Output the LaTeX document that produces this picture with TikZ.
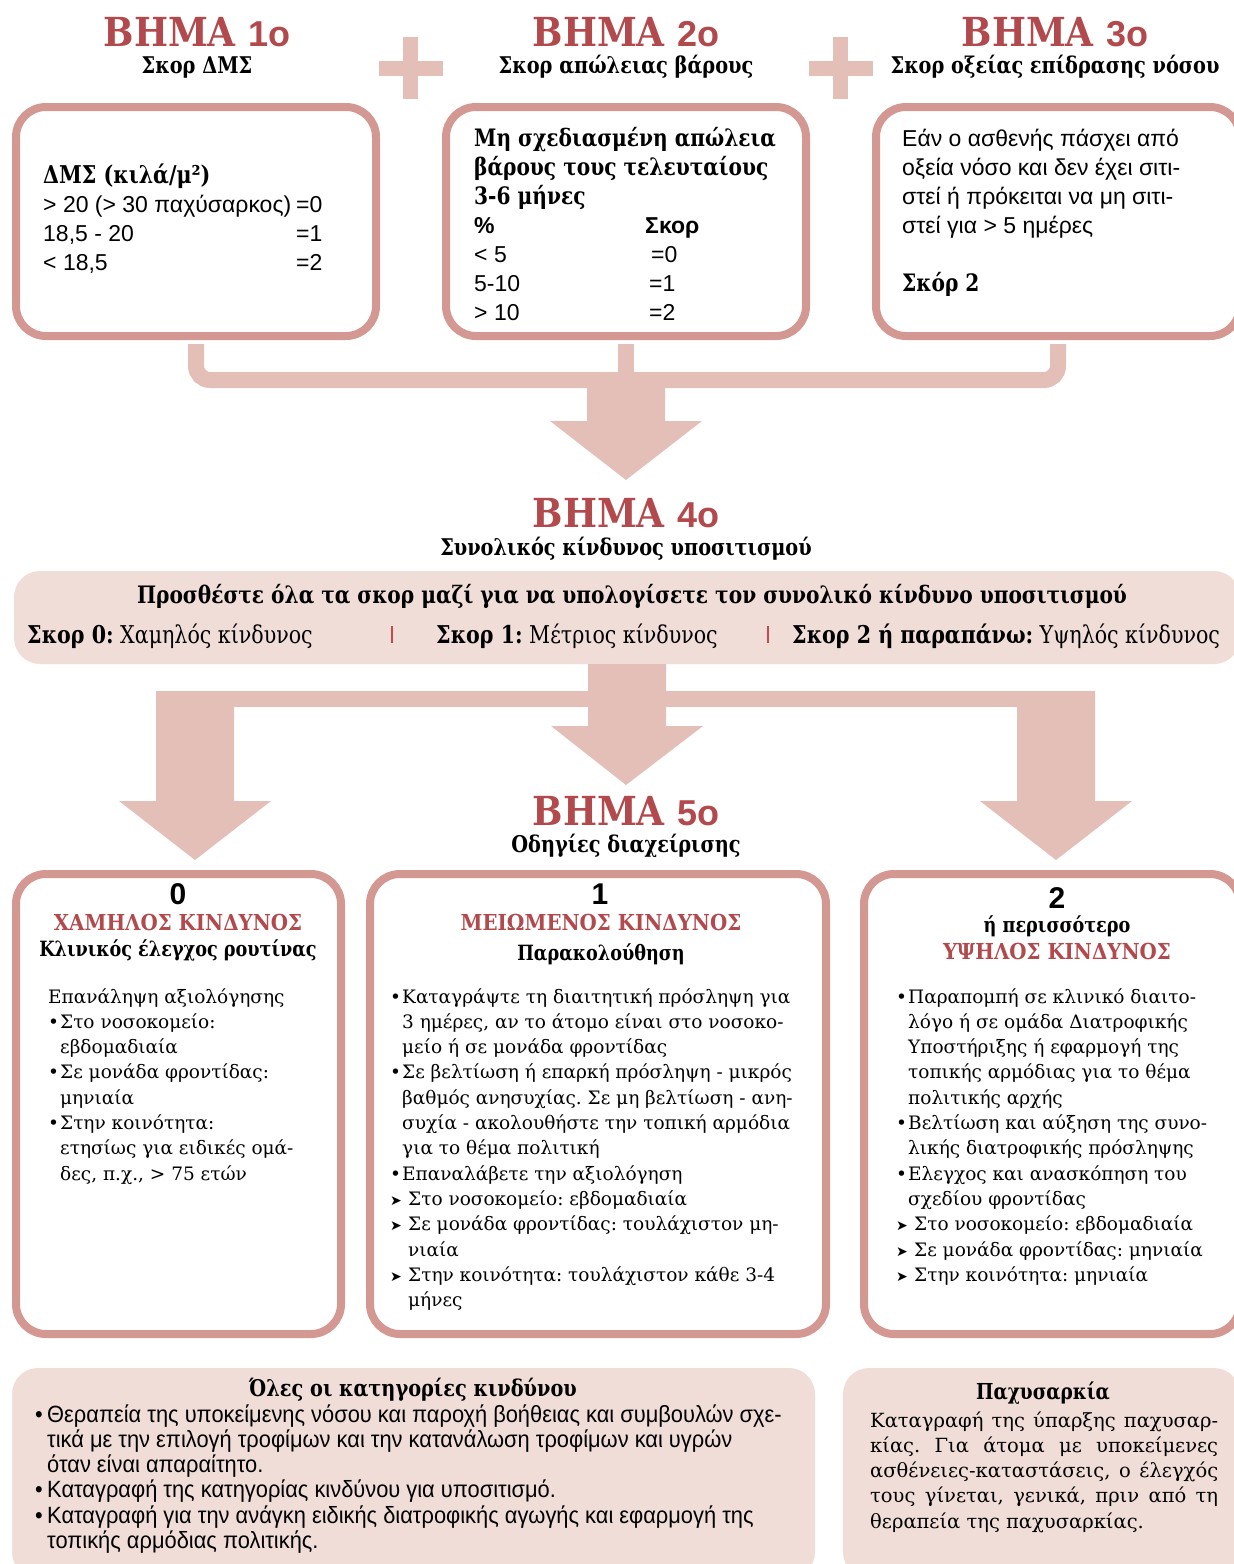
\documentclass[tikz,border=0pt]{standalone}
\usepackage{fontspec}
\setmainfont{DejaVu Serif}
\newfontfamily\narrowserif[FakeStretch=0.84]{DejaVu Serif}
\newfontfamily\titleserif[FakeStretch=0.9]{DejaVu Serif}
\newfontfamily\plainsans{Liberation Sans}
\newfontfamily\narrowsans[FakeStretch=0.93]{Liberation Sans}
\newfontfamily\dingfont{DejaVu Sans}
\usetikzlibrary{positioning,calc}
\frenchspacing

\definecolor{stepred}{RGB}{178,73,77}
\definecolor{boxframe}{RGB}{212,152,147}
\definecolor{flowpink}{RGB}{227,191,183}
\definecolor{panelpink}{RGB}{240,221,215}
\definecolor{barred}{RGB}{204,72,72}

\newcommand{\fsz}[2]{\fontsize{#1}{#2}\selectfont}
\newcommand{\bulletitem}{\makebox[12pt][l]{•}}
\newcommand{\indline}{\hspace*{12pt}}
\newcommand{\arrowitem}{\makebox[18pt][l]{\dingfont\fsz{14}{14}➤}}
\newcommand{\arrowline}{\hspace*{18pt}}
\newcommand{\textlines}[1]{\begin{tabular}[t]{@{}l@{}}#1\end{tabular}}
\newcommand{\stepnum}[1]{{\plainsans\fsz{36}{36}#1}}
\newcommand{\jline}[1]{\makebox[348pt][s]{#1}}

% block arrow: stem from #1, tip at #2
\newcommand{\fatarrow}[2]{%
  \fill[flowpink] let \p1=(#1), \p2=(#2) in
    (\x1-39pt,\y1) -- (\x1+39pt,\y1) -- (\x1+39pt,\y2+59pt)
    -- (\x1+76pt,\y2+59pt) -- (\x2,\y2) -- (\x1-76pt,\y2+59pt)
    -- (\x1-39pt,\y2+59pt) -- cycle;}
\newcommand{\plussign}[1]{%
  \fill[flowpink] ([xshift=-32pt,yshift=-7.5pt]#1) rectangle ([xshift=32pt,yshift=7.5pt]#1);
  \fill[flowpink] ([xshift=-7.5pt,yshift=-31pt]#1) rectangle ([xshift=7.5pt,yshift=31pt]#1);}

\begin{document}
\begin{tikzpicture}[x=1pt,y=-1pt,
    scorebox/.style={draw=boxframe,line width=8pt,fill=white,rounded corners=30pt,inner sep=0pt},
    panel/.style={fill=panelpink,rounded corners=26pt,inner sep=0pt},
    flowline/.style={draw=flowpink,line width=16pt,rounded corners=14pt},
    steptitle/.style={anchor=base,inner sep=0pt,text=stepred,font=\titleserif\bfseries\fsz{40}{40}},
    stepsub/.style={anchor=base,inner sep=0pt,font=\narrowserif\bfseries\fsz{23}{26}},
    riskno/.style={anchor=base,inner sep=0pt,font=\plainsans\bfseries\fsz{30}{30}},
    riskname/.style={anchor=base,inner sep=0pt,text=stepred,font=\titleserif\bfseries\fsz{22}{22}},
    riskhead/.style={anchor=base,inner sep=0pt,font=\narrowserif\bfseries\fsz{21}{21}},
    body/.style={anchor=base west,inner sep=0pt}]

\useasboundingbox (0,0) rectangle (1234,1564);

% Steps 1-3
\node[steptitle] (t1) at (197,46) {ΒΗΜΑ \stepnum{1ο}};
\node[steptitle] (t2) at (626,46) {ΒΗΜΑ \stepnum{2ο}};
\node[steptitle] (t3) at (1055,46) {ΒΗΜΑ \stepnum{3ο}};
\node[stepsub] (s1) at ([yshift=-27pt]t1.base) {Σκορ ΔΜΣ};
\node[stepsub] (s2) at ([yshift=-27pt]t2.base) {Σκορ απώλειας βάρους};
\node[stepsub] (s3) at ([yshift=-27pt]t3.base) {Σκορ οξείας επίδρασης νόσου};
\coordinate (plus1) at (410.5,68);
\coordinate (plus2) at (840.5,68);
\plussign{plus1}
\plussign{plus2}

% Merge to step 4
\node[scorebox,minimum width=360pt,minimum height=229pt] (bmi) at (196,221.5) {};
\node[scorebox,minimum width=360pt,minimum height=229pt] (loss) at (626,221.5) {};
\node[scorebox,minimum width=364pt,minimum height=229pt] (acute) at (1058,221.5) {};
\coordinate (merge) at (626,380);
\coordinate (tip4) at (626,480);
\draw[flowline] ([yshift=-4pt]bmi.south) |- (merge) -| ([yshift=-4pt]acute.south);
\draw[flowline] ([yshift=-4pt]loss.south) -- (merge);
\fatarrow{merge}{tip4}

% Score box texts
\node[body,font=\plainsans\fsz{23}{29}] (bmitext) at (43,183) {\textlines{%
  {\narrowserif\bfseries\fsz{24.5}{29}ΔΜΣ (κιλά/μ²)}\\
  \makebox[253pt][l]{> 20 (> 30 παχύσαρκος)}=0\\
  \makebox[253pt][l]{18,5 - 20}=1\\
  \makebox[253pt][l]{< 18,5}=2}};
\node[body,font=\plainsans\fsz{23}{29}] (losstext) at (474,146) {\textlines{%
  {\narrowserif\bfseries\fsz{24}{29}Μη σχεδιασμένη απώλεια}\\
  {\narrowserif\bfseries\fsz{24}{29}βάρους τους τελευταίους}\\
  {\narrowserif\bfseries\fsz{24}{29}3-6 μήνες}\\
  \makebox[171pt][l]{\bfseries\%}{\bfseries Σκορ}\\
  \makebox[177pt][l]{< 5}=0\\
  \makebox[175pt][l]{5-10}=1\\
  \makebox[175pt][l]{> 10}=2}};
\node[body,font=\plainsans\fsz{23}{29}] (acutetext) at (902,146) {\textlines{%
  Εάν ο ασθενής πάσχει από\\
  οξεία νόσο και δεν έχει σιτι-\\
  στεί ή πρόκειται να μη σιτι-\\
  στεί για > 5 ημέρες\\
  \\
  {\narrowserif\bfseries\fsz{24}{29}Σκόρ 2}}};

% Step 4
\node[steptitle] (t4) at (626,527) {ΒΗΜΑ \stepnum{4ο}};
\node[stepsub] (s4) at ([yshift=-28pt]t4.base) {Συνολικός κίνδυνος υποσιτισμού};
\node[panel,minimum width=1226pt,minimum height=93pt] (total) at (627,617.5) {};
\node[anchor=base,inner sep=0pt,font=\narrowserif\bfseries\fsz{24}{24}] (addall) at (632,603)
  {Προσθέστε όλα τα σκορ μαζί για να υπολογίσετε τον συνολικό κίνδυνο υποσιτισμού};
\node[body,font=\narrowserif\fsz{24.5}{24}] (r0) at (27,643) {{\bfseries Σκορ 0:} Χαμηλός κίνδυνος};
\node[body,font=\narrowserif\fsz{24.5}{24}] (r1) at (436,643) {{\bfseries Σκορ 1:} Μέτριος κίνδυνος};
\node[body,font=\narrowserif\fsz{24.5}{24}] (r2) at (792,643) {{\bfseries Σκορ 2 ή παραπάνω:} Υψηλός κίνδυνος};
\draw[barred,line width=2pt] (392,626) -- (392,643);
\draw[barred,line width=2pt] (768,626) -- (768,643);

% Split to step 5
\coordinate (split) at (626,699);
\coordinate (dropL) at (195,691);
\coordinate (dropR) at (1056,691);
\draw[flowpink,line width=16pt] (dropL |- split) -- (dropR |- split);
\fatarrow{dropL}{195,860}
\fatarrow{dropR}{1056,860}
\fatarrow{total.south}{626,785}

% Step 5
\node[steptitle] (t5) at (626,825) {ΒΗΜΑ \stepnum{5ο}};
\node[stepsub] (s5) at ([yshift=-27pt]t5.base) {Οδηγίες διαχείρισης};
\node[scorebox,minimum width=325pt,minimum height=460pt] (low) at (178.5,1104) {};
\node[scorebox,minimum width=456pt,minimum height=460pt] (medium) at (598,1104) {};
\node[scorebox,minimum width=376pt,minimum height=460pt] (high) at (1052,1104) {};

\node[riskno] (n0) at (178,904) {0};
\node[riskname] (lowname) at (178,930) {ΧΑΜΗΛΟΣ ΚΙΝΔΥΝΟΣ};
\node[riskhead] (lowhead) at (178,956) {Κλινικός έλεγχος ρουτίνας};
\node[body,font=\fsz{18.5}{25.3}] (lowtext) at (48,1003) {\textlines{%
  Επανάληψη αξιολόγησης\\
  \bulletitem Στο νοσοκομείο:\\
  \indline εβδομαδιαία\\
  \bulletitem Σε μονάδα φροντίδας:\\
  \indline μηνιαία\\
  \bulletitem Στην κοινότητα:\\
  \indline ετησίως για ειδικές ομά-\\
  \indline δες, π.χ., > 75 ετών}};

\node[riskno] (n1) at (600,904) {1};
\node[riskname] (medname) at (601,930) {ΜΕΙΩΜΕΝΟΣ ΚΙΝΔΥΝΟΣ};
\node[riskhead] (medhead) at (601,960) {Παρακολούθηση};
\node[body,font=\fsz{18.5}{25.3}] (medtext) at (390,1003) {\textlines{%
  \bulletitem Καταγράψτε τη διαιτητική πρόσληψη για\\
  \indline 3 ημέρες, αν το άτομο είναι στο νοσοκο-\\
  \indline μείο ή σε μονάδα φροντίδας\\
  \bulletitem Σε βελτίωση ή επαρκή πρόσληψη - μικρός\\
  \indline βαθμός ανησυχίας. Σε μη βελτίωση - ανη-\\
  \indline συχία - ακολουθήστε την τοπική αρμόδια\\
  \indline για το θέμα πολιτική\\
  \bulletitem Επαναλάβετε την αξιολόγηση\\
  \arrowitem Στο νοσοκομείο: εβδομαδιαία\\
  \arrowitem Σε μονάδα φροντίδας: τουλάχιστον μη-\\
  \arrowline νιαία\\
  \arrowitem Στην κοινότητα: τουλάχιστον κάθε 3-4\\
  \arrowline μήνες}};

\node[riskno] (n2) at (1057,908) {2};
\node[riskhead] (highmore) at (1057,932) {ή περισσότερο};
\node[riskname] (highname) at (1057,959) {ΥΨΗΛΟΣ ΚΙΝΔΥΝΟΣ};
\node[body,font=\fsz{18.5}{25.3}] (hightext) at (896,1003) {\textlines{%
  \bulletitem Παραπομπή σε κλινικό διαιτο-\\
  \indline λόγο ή σε ομάδα Διατροφικής\\
  \indline Υποστήριξης ή εφαρμογή της\\
  \indline τοπικής αρμόδιας για το θέμα\\
  \indline πολιτικής αρχής\\
  \bulletitem Βελτίωση και αύξηση της συνο-\\
  \indline λικής διατροφικής πρόσληψης\\
  \bulletitem Ελεγχος και ανασκόπηση του\\
  \indline σχεδίου φροντίδας\\
  \arrowitem Στο νοσοκομείο: εβδομαδιαία\\
  \arrowitem Σε μονάδα φροντίδας: μηνιαία\\
  \arrowitem Στην κοινότητα: μηνιαία}};

% Notes for all categories
\node[panel,minimum width=803pt,minimum height=210pt] (allrisk) at (413.5,1473) {};
\node[panel,minimum width=397pt,minimum height=210pt] (obesity) at (1041.5,1473) {};
\node[anchor=base,inner sep=0pt,font=\narrowserif\bfseries\fsz{23}{23}] (allhead) at (413,1396) {Όλες οι κατηγορίες κινδύνου};
\node[body,font=\narrowsans\fsz{23.5}{25.3}] (alltext) at (35,1422) {\textlines{%
  \bulletitem Θεραπεία της υποκείμενης νόσου και παροχή βοήθειας και συμβουλών σχε-\\
  \indline τικά με την επιλογή τροφίμων και την κατανάλωση τροφίμων και υγρών\\
  \indline όταν είναι απαραίτητο.\\
  \bulletitem Καταγραφή της κατηγορίας κινδύνου για υποσιτισμό.\\
  \bulletitem Καταγραφή για την ανάγκη ειδικής διατροφικής αγωγής και εφαρμογή της\\
  \indline τοπικής αρμόδιας πολιτικής.}};
\node[anchor=base,inner sep=0pt,font=\narrowserif\bfseries\fsz{22}{22}] (obhead) at (1043,1399) {Παχυσαρκία};
\node[body,font=\fsz{19.5}{25.3}] (obtext) at (870,1427) {\textlines{%
  \jline{Καταγραφή της ύπαρξης παχυσαρ-}\\
  \jline{κίας. Για άτομα με υποκείμενες}\\
  \jline{ασθένειες-καταστάσεις, ο έλεγχός}\\
  \jline{τους γίνεται, γενικά, πριν από τη}\\
  θεραπεία της παχυσαρκίας.}};

\end{tikzpicture}
\end{document}
